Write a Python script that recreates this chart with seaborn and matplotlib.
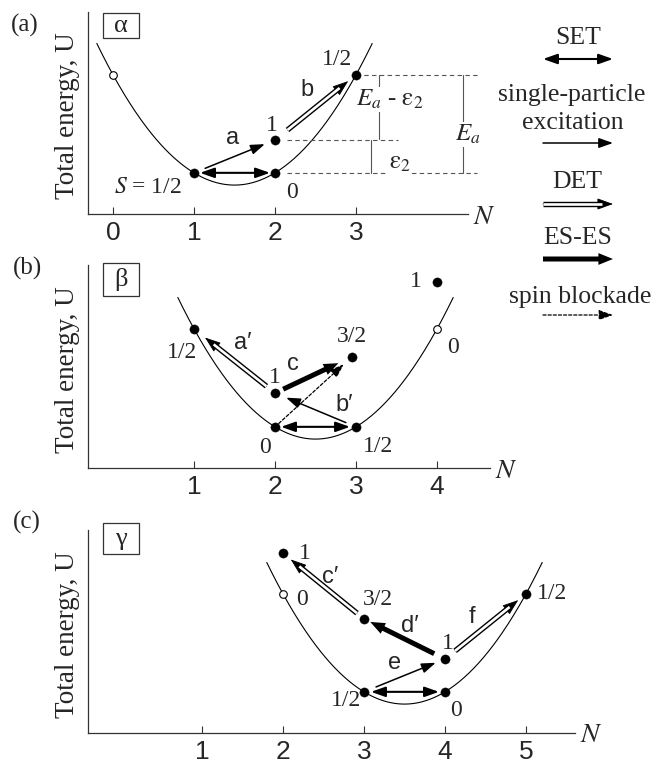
import numpy as np
import pandas as pd
import matplotlib
matplotlib.use('Agg')
import matplotlib.pyplot as plt
import seaborn as sns
from matplotlib.patches import Rectangle

sns.set_style('ticks')
SERIF = ['Liberation Serif', 'DejaVu Serif']
SANS = ['Liberation Sans', 'DejaVu Sans']
plt.rcParams['font.family'] = SERIF
plt.rcParams['mathtext.fontset'] = 'stix'

# ---------------- data: charge number N and total energy U of each state ----------------
U0 = 0.59  # energy at the bottom of the charging parabola

# panel (a)
a_N = [0, 1, 2, 2, 3]
a_U = [2.84, 0.84, 0.84, 1.51, 2.84]
a_open = [True, False, False, False, False]
a_spin = ['', '$S$ = 1/2', '0', '1', '1/2']
a_min, a_span = 1.5, (-0.2, 3.2)
a_ticks = [0, 1, 2, 3]
a_arrows = [(1, 2, 'SET', ''), (1, 3, 'SP', 'a'), (3, 4, 'DET', 'b')]

# panel (b)
b_N = [1, 2, 2, 3, 2.95, 4, 4]
b_U = [2.84, 1.53, 0.84, 0.84, 2.27, 2.84, 3.80]
b_open = [False, False, False, False, False, True, False]
b_spin = ['1/2', '1', '0', '1/2', '3/2', '0', '1']
b_min, b_span = 2.5, (0.8, 4.2)
b_ticks = [1, 2, 3, 4]
b_arrows = [(2, 3, 'SET', ''), (1, 0, 'DET', 'a′'), (1, 4, 'ES', 'c'),
            (3, 1, 'SP', 'b′'), (2, 4, 'SB', '')]

# panel (c)
c_N = [2, 2, 3, 3, 4, 4, 5]
c_U = [3.67, 2.84, 2.33, 0.84, 0.84, 1.51, 2.84]
c_open = [False, True, False, False, False, False, False]
c_spin = ['1', '0', '3/2', '1/2', '0', '1', '1/2']
c_min, c_span = 3.5, (1.8, 5.2)
c_ticks = [1, 2, 3, 4, 5]
c_arrows = [(3, 4, 'SET', ''), (3, 5, 'SP', 'e'), (5, 2, 'ES', 'd′'),
            (5, 6, 'DET', 'f'), (2, 0, 'DET', 'c′')]

legend_kinds = ['SET', 'SP', 'DET', 'ES', 'SB']
legend_names = [['SET'], ['single-particle', 'excitation'], ['DET'], ['ES-ES'], ['spin blockade']]

# ---------------- layout (pixels) ----------------
W, H = 651, 770
# left, right, bottom, top, xlim
a_box = (88, 468, 214, 12, (-0.309, 4.383))
b_box = (88, 490, 468, 265, (-0.309, 4.654))
c_box = (88, 575, 733, 530, (-0.407, 5.605))

a_lab_off = [(0, 0), (-46, -15), (17, -20), (-3, 15), (-19, 15)]
b_lab_off = [(-12, -24), (0, 16), (-10, -21), (22, -20), (0, 20), (16, -19), (-21, 0)]
c_lab_off = [(22, 0), (19, -6), (14, 19), (-18, -9), (11, -19), (3, 16), (26, 0)]

a_shr = [(6, 5), (12, 11), (16, 10)]
b_shr = [(6, 6), (11, 14), (9, 15), (11, 12), (5, 11)]
c_shr = [(7, 6), (13, 10), (12, 7), (13, 10), (9, 10)]

a_arr_lab = [None, (1.47, 1.55), (2.40, 2.53)]
b_arr_lab = [None, (1.60, 2.55), (2.22, 2.12), (2.86, 1.29), None]
c_arr_lab = [None, (3.38, 1.43), (3.57, 2.18), (4.33, 2.37), (2.58, 3.18)]

fig = plt.figure(figsize=(W / 100, H / 100), dpi=100)


def make_ax(box):
    l, r, b, t, xl = box
    ax = fig.add_axes([l / W, 1 - b / H, (r - l) / W, (b - t) / H])
    ax.set_xlim(*xl)
    ax.set_ylim(0, (b - t) / 49)
    ax.patch.set_alpha(0)
    for s in ['top', 'right']:
        ax.spines[s].set_visible(False)
    for s in ['left', 'bottom']:
        ax.spines[s].set_color('#333333')
        ax.spines[s].set_linewidth(0.9)
    ax.set_yticks([])
    ax.tick_params(axis='x', direction='in', length=5, width=0.8, color='#333333', pad=5)
    return ax


def draw_arrow(ax, p0, p1, kind, s0=0, s1=0):
    T = ax.transData
    q0, q1 = T.transform(p0), T.transform(p1)
    u = (q1 - q0) / np.hypot(*(q1 - q0))
    q0 = q0 + u * s0
    q1 = q1 - u * s1
    inv = T.inverted()
    a, b = inv.transform(q0), inv.transform(q1)
    base = dict(mutation_scale=10, shrinkA=0, shrinkB=0, color='k')
    if kind == 'SET':
        props = dict(arrowstyle='<|-|>,head_length=0.85,head_width=0.3', lw=1.5, **base)
    elif kind == 'SP':
        props = dict(arrowstyle='-|>,head_length=0.85,head_width=0.3', lw=1.1, **base)
    elif kind == 'SB':
        props = dict(arrowstyle='-|>,head_length=0.85,head_width=0.3', lw=0.9,
                     linestyle=(0, (2.5, 1.6)), **base)
    elif kind == 'ES':
        props = dict(arrowstyle='simple,head_length=1.05,head_width=0.85,tail_width=0.36',
                     lw=0, **base)
    else:  # DET: hollow double shaft with a filled head
        props = dict(arrowstyle='-|>,head_length=1.0,head_width=0.36', lw=0.6, **base)
        hb = inv.transform(q1 - u * 11)
        ax.plot([a[0], hb[0]], [a[1], hb[1]], color='k', lw=3.9,
                solid_capstyle='butt', clip_on=False, zorder=4)
        ax.plot([a[0], hb[0]], [a[1], hb[1]], color='white', lw=1.9,
                solid_capstyle='butt', clip_on=False, zorder=4.5)
    ax.annotate('', xy=b, xytext=a, xycoords='data', textcoords='data',
                arrowprops=props, annotation_clip=False, zorder=4)


def panel(box, N, U, is_open, spin, cmin, span, ticks, arrows, lab_off, shr, arr_lab):
    ax = make_ax(box)
    Ngrid = np.linspace(span[0], span[1], 300)
    curve = pd.DataFrame({'N': Ngrid, 'U': (Ngrid - cmin) ** 2 + U0})
    sns.lineplot(data=curve, x='N', y='U', ax=ax, color='k', lw=0.8, sort=False)
    df = pd.DataFrame({'N': N, 'U': U, 'open': is_open, 'spin': spin})
    sns.scatterplot(data=df[~df['open']], x='N', y='U', ax=ax, color='k', s=44,
                    edgecolor='k', linewidth=0.3, zorder=6, clip_on=False)
    sns.scatterplot(data=df[df['open']], x='N', y='U', ax=ax, color='white', s=30,
                    edgecolor='k', linewidth=0.8, zorder=6, clip_on=False)
    for (n, e, lab), off in zip(zip(N, U, spin), lab_off):
        if lab:
            ax.annotate(lab, xy=(n, e), xytext=off, textcoords='offset pixels',
                        ha='center', va='center', fontsize=17, family=SERIF)
    for (i, j, kind, lab), (s0, s1), lp in zip(arrows, shr, arr_lab):
        draw_arrow(ax, (N[i], U[i]), (N[j], U[j]), kind, s0, s1)
        if lab:
            ax.text(lp[0], lp[1], lab, ha='center', va='center', fontsize=17,
                    family=SANS)
    ax.set_xticks(ticks)
    ax.set_xticklabels([str(t) for t in ticks], fontsize=19, family=SANS)
    ax.set_xlabel('')
    ax.set_ylabel('')
    ax.annotate('$N$', xy=(1, 0), xycoords='axes fraction', xytext=(16, -3),
                textcoords='offset pixels', ha='center', va='center', fontsize=20)
    return ax


ax_a = panel(a_box, a_N, a_U, a_open, a_spin, a_min, a_span, a_ticks, a_arrows,
             a_lab_off, a_shr, a_arr_lab)
ax_b = panel(b_box, b_N, b_U, b_open, b_spin, b_min, b_span, b_ticks, b_arrows,
             b_lab_off, b_shr, b_arr_lab)
ax_c = panel(c_box, c_N, c_U, c_open, c_spin, c_min, c_span, c_ticks, c_arrows,
             c_lab_off, c_shr, c_arr_lab)

# energy brackets in panel (a)
gs, ex, top = a_U[1], a_U[3], a_U[4]
dash = dict(color='#555555', lw=0.8, linestyle=(0, (4, 3)), clip_on=False, zorder=2)
solid = dict(color='#555555', lw=0.8, clip_on=False, zorder=2)
ax_a.plot([3.0, 4.53], [top, top], **dash)
ax_a.plot([2.15, 3.52], [ex, ex], **dash)
ax_a.plot([2.15, 4.5], [gs, gs], **dash)
ax_a.plot([3.19, 3.19], [gs, ex], **solid)
ax_a.plot([3.28, 3.28], [ex + 0.03, top], **solid)
ax_a.plot([4.32, 4.32], [gs, top], **solid)
wbg = dict(facecolor='white', edgecolor='none', pad=0.5)
ax_a.text(3.42, 2.33, r'$E_a$ - $\mathrm{ε}_2$', ha='center', va='center', fontsize=18, bbox=wbg, zorder=3)
ax_a.text(3.54, 1.04, r'$\mathrm{ε}_2$', ha='center', va='center', fontsize=18, bbox=wbg, zorder=3)
ax_a.text(4.38, 1.63, r'$E_a$', ha='center', va='center', fontsize=18, bbox=wbg, zorder=3)

# overlay in pixel coordinates for legend, panel tags and y labels
ov = fig.add_axes([0, 0, 1, 1], zorder=10)
ov.set_xlim(0, W)
ov.set_ylim(H, 0)
ov.axis('off')
ov.patch.set_alpha(0)

legend_y = [59, 143, 204, 259, 315]
legend_text = [[(578, 38)], [(572, 95), (573, 123)], [(577, 182)], [(578, 238)], [(580, 297)]]
for kind, y, lines, spots in zip(legend_kinds, legend_y, legend_names, legend_text):
    draw_arrow(ov, (543, y), (613, y), kind)
    for line, (tx, ty) in zip(lines, spots):
        ov.text(tx, ty, line, ha='center', va='center', fontsize=18.5)

for tag, (tx, ty) in zip(['(a)', '(b)', '(c)'], [(25, 25), (27, 268), (27, 522)]):
    ov.text(tx, ty, tag, ha='center', va='center', fontsize=18)

for greek, (x0, y0, x1, y1) in zip(['α', 'β', 'γ'],
                                   [(103, 13, 139, 38), (103, 263, 139, 296), (103, 523, 139, 554)]):
    ov.add_patch(Rectangle((x0, y0), x1 - x0, y1 - y0, fill=False, lw=0.9, ec='#333333'))
    ov.text((x0 + x1) / 2, (y0 + y1) / 2, greek, ha='center', va='center', fontsize=19)

for box in [a_box, b_box, c_box]:
    ov.text(68, (box[2] + box[3]) / 2 + 3, 'Total energy, U', rotation=90,
            ha='center', va='center', fontsize=19.5)

fig.savefig('out.png', dpi=100)
